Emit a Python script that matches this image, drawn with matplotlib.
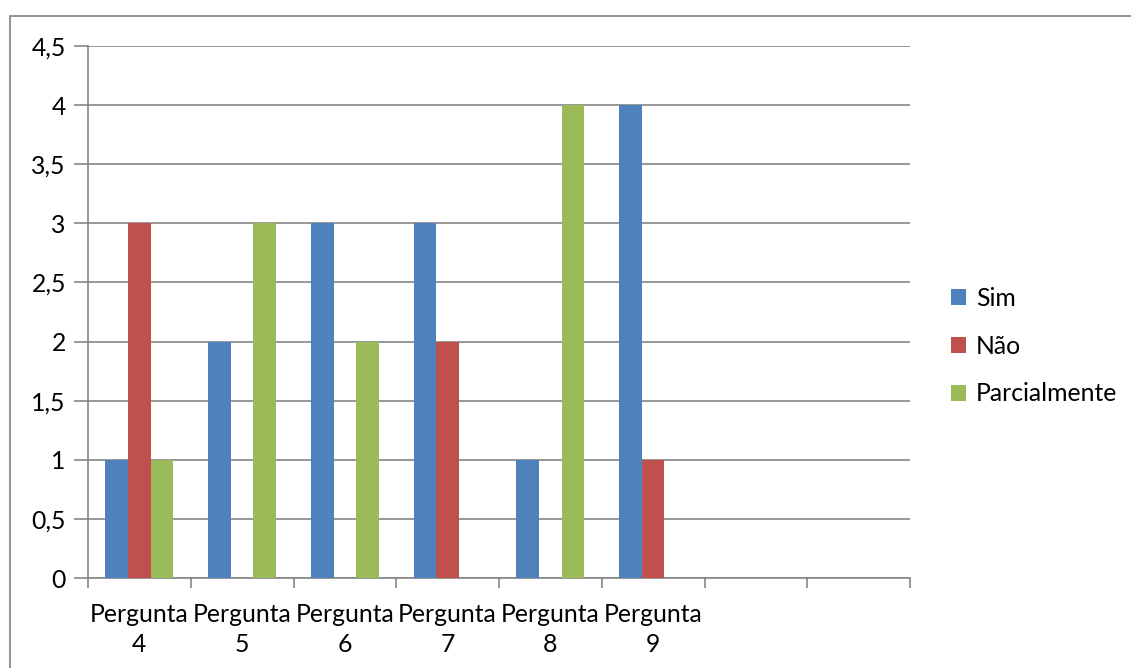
import matplotlib
matplotlib.use("Agg")
import matplotlib.pyplot as plt
from matplotlib.patches import Rectangle
import numpy as np

categories = ["Pergunta\n4", "Pergunta\n5", "Pergunta\n6", "Pergunta\n7",
              "Pergunta\n8", "Pergunta\n9", "", ""]
sim = [1, 2, 3, 3, 1, 4, 0, 0]
nao = [3, 0, 0, 2, 0, 1, 0, 0]
parcial = [1, 3, 2, 0, 4, 0, 0, 0]
series_names = ["Sim", "Não", "Parcialmente"]
colors = ["#4F81BD", "#C0504D", "#9BBB59"]
y_ticks = [0, 0.5, 1, 1.5, 2, 2.5, 3, 3.5, 4, 4.5]
y_tick_labels = ["0", "0,5", "1", "1,5", "2", "2,5", "3", "3,5", "4", "4,5"]

plt.rcParams["font.family"] = ["Lato", "DejaVu Sans"]
FS = 17.8

W, H = 1131, 668
fig = plt.figure(figsize=(W / 100, H / 100), dpi=100)
ax = fig.add_axes([88 / W, 1 - 578 / H, 822 / W, 532 / H])

grid_color = "#868686"
x = np.arange(len(categories))
bw = 0.221
for i, (vals, name, c) in enumerate(zip([sim, nao, parcial], series_names, colors)):
    ax.bar(x + (i - 1) * bw, vals, width=bw, color=c, label=name, zorder=3)

ax.set_xlim(-0.5, len(categories) - 0.5)
ax.set_ylim(0, 4.5)
ax.set_yticks(y_ticks)
ax.set_yticklabels(y_tick_labels)
ax.yaxis.grid(True, color=grid_color, linewidth=1.2, zorder=0)

ax.set_xticks(np.arange(-0.5, len(categories)), minor=False)
ax.set_xticklabels([])
ax.set_xticks(x, minor=True)
ax.set_xticklabels(categories, minor=True, fontsize=FS, linespacing=1.35)
ax.tick_params(axis="x", which="minor", length=0, pad=18)
ax.tick_params(axis="x", which="major", length=7, color=grid_color, width=1.2)
ax.tick_params(axis="y", length=10, color=grid_color, width=1.2, pad=6, labelsize=FS)

for s in ["top", "right"]:
    ax.spines[s].set_visible(False)
for s in ["left", "bottom"]:
    ax.spines[s].set_color(grid_color)
    ax.spines[s].set_linewidth(1.2)

fig.legend(loc="center left", bbox_to_anchor=(951 / W, 1 - 346 / H),
           frameon=False, fontsize=FS, handlelength=0.62, handleheight=0.62,
           labelspacing=1.0, handletextpad=0.38, borderaxespad=0, borderpad=0)

fig.patches.append(Rectangle((10 / W, -0.1), 1.2, 1 - 16 / H + 0.1,
                             transform=fig.transFigure, fill=False,
                             edgecolor="#8a8a8a", linewidth=1.3))

fig.savefig("out.png", dpi=100)
